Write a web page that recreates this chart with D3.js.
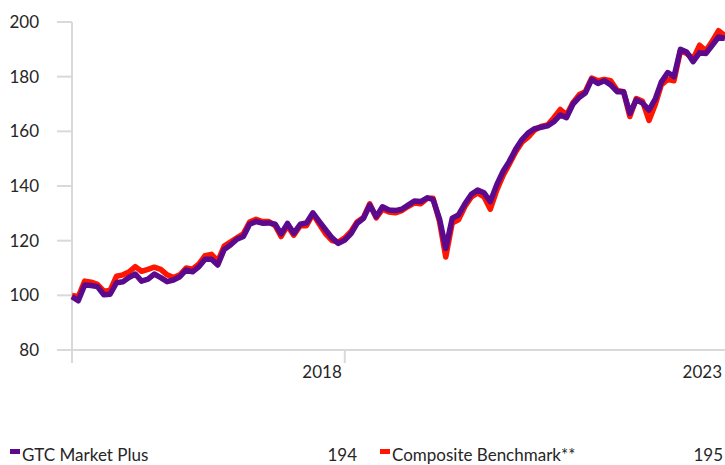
<!DOCTYPE html>
<html>
<head>
<meta charset="utf-8">
<script src="https://cdn.jsdelivr.net/npm/d3@7"></script>
<style>
  html, body { margin: 0; padding: 0; background: #fff; }
  svg { display: block; font-family: Lato, "Open Sans", sans-serif; }
</style>
</head>
<body>
<svg id="chart" width="725" height="465"></svg>
<script>
// ---- data ----
const startMonth = new Date(2014, 5, 1);   // first monthly observation
const endMonth = new Date(2023, 0, 1);     // last monthly observation
const seriesNames = ["GTC Market Plus", "Composite Benchmark**"];
const gtcValues = [
  99.5, 98, 103.8, 103.6, 103.2, 100.2, 100.4, 104.6, 105, 106.5,
  107.8, 105.2, 105.9, 107.8, 106.5, 105, 105.6, 106.8, 109.3, 108.6,
  110.5, 113.2, 113.2, 111.1, 116.8, 118.4, 120.5, 121.5, 126, 127,
  126.4, 126.5, 126, 122.5, 126.3, 122.7, 126, 126.5, 130.2, 127,
  124, 121, 119, 120.2, 122.7, 126.3, 128.2, 133, 128.8, 132.4,
  131.2, 131, 131.5, 133, 134.5, 134.3, 135.7, 135, 128, 117.2,
  128.2, 129.4, 133.5, 137, 138.5, 137.5, 134.3, 140.5, 145.5, 149,
  153.5, 157, 159.5, 161, 161.5, 162, 163.5, 166, 165, 170,
  172.5, 174, 179, 177.5, 178.5, 177, 174.5, 174.5, 166.6, 171.5,
  170.3, 167.8, 172, 178, 181.5, 180, 190, 189, 185.5, 188.8,
  188.5, 191.5, 194.5, 194
];
const benchmarkValues = [
  100, 99.5, 105.2, 104.8, 104, 101.5, 101.8, 107, 107.5, 108.5,
  110.5, 108.8, 109.5, 110.3, 109.5, 107.5, 106.5, 107.5, 110, 109.6,
  111.5, 114.5, 115, 112.5, 118, 119.5, 121, 122.5, 126.8, 127.8,
  127, 127, 125.5, 121.5, 125.5, 122, 125.5, 125.5, 129.8, 126,
  122.5, 120, 119.5, 121, 123.5, 126.8, 128.5, 133.5, 128.3, 131.5,
  130.5, 130.2, 131, 132.5, 133.8, 133.5, 135.5, 135.5, 127, 114,
  126.5, 127.6, 132.5, 136, 137.5, 136, 131.5, 138.5, 144, 148,
  152.5, 156, 158, 160.5, 161.8, 162.3, 165, 168, 166, 170.5,
  173.5, 174.5, 179.5, 178.5, 179, 178.5, 175, 174.5, 165.4, 172,
  171, 164, 170, 177, 179, 178.5, 189.5, 188.5, 186.5, 191.5,
  189.5, 193, 196.8, 195
];
const legendValues = [194, 195];
const yTicks = [80, 100, 120, 140, 160, 180, 200];
const xTickLabels = [new Date(2018, 0, 1), new Date(2023, 0, 1)];

// ---- layout ----
const svg = d3.select("#chart");
const colors = ["#5b0a8e", "#ff1500"];
const axisColor = "#d9d9d9";
const textColor = "#262626";

const dates = gtcValues.map((_, i) => d3.timeMonth.offset(startMonth, i));

const x = d3.scaleTime().domain([startMonth, endMonth]).range([72, 725]);
const y = d3.scaleLinear().domain([80, 200]).range([350, 22]);

// y ticks (short marks to the left) and labels
const yAxis = svg.append("g");
yAxis.selectAll("line.yt").data(yTicks).join("line")
  .attr("class", "yt")
  .attr("x1", 57).attr("x2", x.range()[0])
  .attr("y1", d => y(d)).attr("y2", d => y(d))
  .attr("stroke", axisColor).attr("stroke-width", 2);
yAxis.selectAll("text").data(yTicks).join("text")
  .attr("x", 39).attr("y", d => y(d))
  .attr("dy", "0.36em")
  .attr("text-anchor", "end")
  .attr("font-size", 17)
  .attr("fill", textColor)
  .text(d => d);

// vertical axis line
svg.append("line")
  .attr("x1", x.range()[0]).attr("x2", x.range()[0])
  .attr("y1", y(200)).attr("y2", y(80) + 13)
  .attr("stroke", axisColor).attr("stroke-width", 2);

// horizontal axis line
svg.append("line")
  .attr("x1", 57).attr("x2", 725)
  .attr("y1", y(80)).attr("y2", y(80))
  .attr("stroke", axisColor).attr("stroke-width", 2);

// x ticks (only those inside the plot) and labels
const xAxis = svg.append("g");
xAxis.selectAll("line").data(xTickLabels.filter(d => x(d) < x.range()[1] - 2)).join("line")
  .attr("x1", d => x(d)).attr("x2", d => x(d))
  .attr("y1", y(80)).attr("y2", y(80) + 13)
  .attr("stroke", axisColor).attr("stroke-width", 2);
xAxis.selectAll("text").data(xTickLabels).join("text")
  .attr("x", d => Math.min(x(d) - 3, 724))
  .attr("y", y(80) + 28)
  .attr("text-anchor", "end")
  .attr("font-size", 17)
  .attr("fill", textColor)
  .text(d => d3.timeFormat("%Y")(d));

// lines
const line = d3.line()
  .x((d, i) => x(dates[i]))
  .y(d => y(d))
  .curve(d3.curveLinear);

svg.append("path")
  .datum(benchmarkValues)
  .attr("d", line)
  .attr("fill", "none")
  .attr("stroke", colors[1])
  .attr("stroke-width", 5.5)
  .attr("stroke-linejoin", "round");

svg.append("path")
  .datum(gtcValues)
  .attr("d", line)
  .attr("fill", "none")
  .attr("stroke", colors[0])
  .attr("stroke-width", 5.5)
  .attr("stroke-linejoin", "round");

// legend
const legendX = [10, 380];
const legendValX = [357, 723];
const legend = svg.append("g");
seriesNames.forEach((name, i) => {
  legend.append("rect")
    .attr("x", legendX[i]).attr("y", 449)
    .attr("width", 10).attr("height", 5)
    .attr("fill", colors[i]);
  legend.append("text")
    .attr("x", legendX[i] + 12).attr("y", 461)
    .attr("font-size", 17)
    .attr("fill", textColor)
    .text(name);
  legend.append("text")
    .attr("x", legendValX[i]).attr("y", 461)
    .attr("text-anchor", "end")
    .attr("font-size", 17)
    .attr("fill", textColor)
    .text(legendValues[i]);
});
</script>
</body>
</html>
